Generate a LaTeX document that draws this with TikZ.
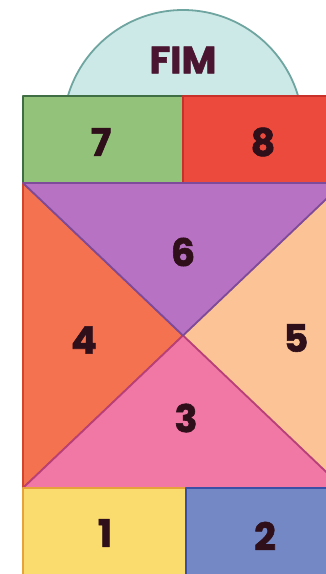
\documentclass[tikz,border=0pt]{standalone}
\usepackage{fontspec}
\newfontfamily\hopfont{Poppins}[BoldFeatures={FakeBold=1.5}]
\usetikzlibrary{positioning}
\definecolor{fimfill}{HTML}{CDE9E7}
\definecolor{fimline}{HTML}{6FA5A0}
\definecolor{sevenfill}{HTML}{93C27A}
\definecolor{sevenline}{HTML}{3F6E45}
\definecolor{eightfill}{HTML}{EC4A3C}
\definecolor{eightline}{HTML}{C8302A}
\definecolor{sixfill}{HTML}{B872C4}
\definecolor{sixline}{HTML}{7E4A9A}
\definecolor{fourfill}{HTML}{F47250}
\definecolor{fourline}{HTML}{D2452C}
\definecolor{fivefill}{HTML}{FBC396}
\definecolor{fiveline}{HTML}{E8A070}
\definecolor{threefill}{HTML}{F177A5}
\definecolor{threeline}{HTML}{B8407A}
\definecolor{onefill}{HTML}{F9DB6E}
\definecolor{oneline}{HTML}{E8A23A}
\definecolor{twofill}{HTML}{7388C4}
\definecolor{twoline}{HTML}{3B4FA6}
\definecolor{ink}{HTML}{2E0F1A}
\definecolor{fimink}{HTML}{4A1530}

\begin{document}
\begin{tikzpicture}[
  x=1pt, y=-1pt,
  tile/.style={line width=1.8pt, line join=round},
  num/.style={font=\hopfont\bfseries\fontsize{38}{38}\selectfont, text=ink, inner sep=0pt}
]
\useasboundingbox (0,0) rectangle (326,574);
\clip (0,0) rectangle (326,574);

% corners of the grid
\coordinate (topL) at (23,96);
\coordinate (topM) at (183,96);
\coordinate (topR) at (343,96);
\coordinate (midTL) at (23,183);
\coordinate (midTM) at (183,183);
\coordinate (midTR) at (343,183);
\coordinate (cross) at (183,335.5);
\coordinate (midBL) at (23,488);
\coordinate (midBM) at (186,488);
\coordinate (midBR) at (343,488);
\coordinate (botL) at (23,600);
\coordinate (botM) at (186,600);
\coordinate (botR) at (343,600);

% half circle behind the top row
\draw[tile, fill=fimfill, draw=fimline] (183,130) circle [radius=120pt];

% top row
\draw[tile, fill=sevenfill, draw=sevenline] (topL) rectangle (midTM);
\draw[tile, fill=eightfill, draw=eightline] (topM) rectangle (midTR);

% middle square, four triangles
\draw[tile, fill=fourfill, draw=fourline] (midTL) -- (cross) -- (midBL) -- cycle;
\draw[tile, fill=fivefill, draw=fiveline] (midTR) -- (cross) -- (midBR) -- cycle;
\draw[tile, fill=threefill, draw=threeline] (midBL) -- (cross) -- (midBR) -- cycle;
\draw[tile, fill=sixfill, draw=sixline] (midTL) -- (midTR) -- (cross) -- cycle;

% bottom row
\draw[tile, fill=onefill, draw=oneline] (midBL) rectangle (botM);
\draw[tile, fill=twofill, draw=twoline] (midBM) rectangle (botR);

% labels
\node[num, text=fimink] (fim) at (183,60) {FIM};
\node[num] (n7) at (101,142) {7};
\node[num] (n8) at (263,142) {8};
\node[num] (n6) at (183,252) {6};
\node[num] (n4) at (84,340) {4};
\node[num] (n5) at (296,338) {5};
\node[num] (n3) at (186,418) {3};
\node[num] (n1) at (105,533) {1};
\node[num] (n2) at (265,536) {2};
\end{tikzpicture}
\end{document}
